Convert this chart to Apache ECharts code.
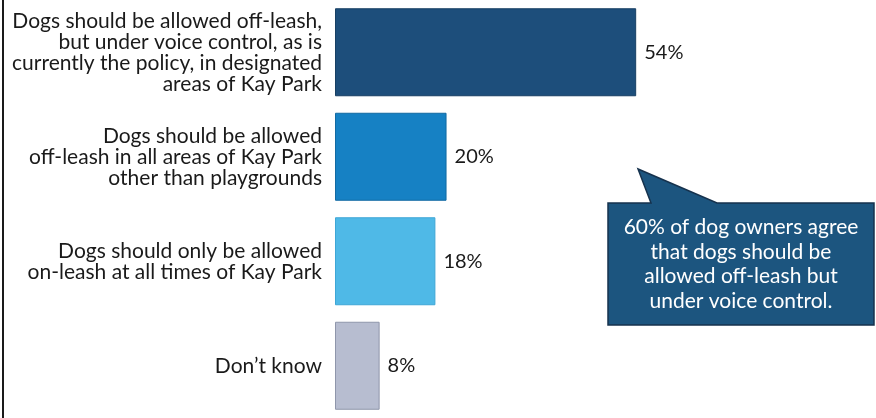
<!DOCTYPE html>
<html>
<head>
<meta charset="utf-8">
<style>
  html, body { margin: 0; padding: 0; background: #ffffff; }
  #chart { width: 876px; height: 418px; }
</style>
<script src="https://cdn.jsdelivr.net/npm/echarts@6/dist/echarts.min.js"></script>
</head>
<body>
<div id="chart"></div>
<script>
// Survey responses: dog leash policy preferences in Kay Park
const categories = [
  'Dogs should be allowed off-leash,\nbut under voice control, as is\ncurrently the policy, in designated\nareas of Kay Park',
  'Dogs should be allowed\noff-leash in all areas of Kay Park\nother than playgrounds',
  'Dogs should only be allowed\non-leash at all times of Kay Park',
  'Don\u2019t know'
];
const shares = [54, 20, 18, 8];
const calloutLines = [
  '60% of dog owners agree',
  'that dogs should be',
  'allowed off-leash but',
  'under voice control.'
];

// Per-bar fill and edge colours
const barFills = ['#1d4e7b', '#1681c4', '#4fb9e7', '#b7bdd0'];
const barEdges = ['#173f63', '#126aa3', '#3ea6d6', '#8f96ab'];

const FONT = 'Lato, "Open Sans", sans-serif';

const chart = echarts.init(document.getElementById('chart'), null, { renderer: 'canvas' });

chart.setOption({
  backgroundColor: '#ffffff',
  animation: false,
  grid: { left: 335, top: -2, right: 0, height: 424, containLabel: false },
  xAxis: { type: 'value', min: 0, max: 97, show: false },
  yAxis: {
    type: 'category',
    data: categories,
    inverse: true,
    axisLine: { show: false },
    axisTick: { show: false },
    splitLine: { show: false },
    axisLabel: {
      margin: 13,
      align: 'right',
      color: '#1a1a1a',
      fontFamily: FONT,
      fontSize: 21,
      lineHeight: 21
    }
  },
  series: [{
    type: 'bar',
    barWidth: 88,
    data: shares.map((v, i) => ({
      value: v,
      itemStyle: { color: barFills[i], borderColor: barEdges[i], borderWidth: 1 }
    })),
    label: {
      show: true,
      position: 'right',
      distance: 8,
      formatter: '{c}%',
      color: '#1a1a1a',
      fontFamily: FONT,
      fontSize: 20
    }
  }],
  graphic: [
    // frame line at the left edge
    {
      type: 'rect',
      shape: { x: 2, y: 0, width: 2, height: 418 },
      style: { fill: '#1a1a1a' },
      silent: true
    },
    // speech-bubble callout
    {
      type: 'polygon',
      shape: {
        points: [
          [608, 203], [651, 203], [638, 169], [717, 203],
          [874, 203], [874, 325], [608, 325]
        ]
      },
      style: { fill: '#1c557f', stroke: '#16324d', lineWidth: 1.5 },
      silent: true
    },
    {
      type: 'text',
      x: 741,
      y: 264,
      style: {
        text: calloutLines.join('\n'),
        fill: '#ffffff',
        font: '21px ' + FONT,
        lineHeight: 24.5,
        align: 'center',
        verticalAlign: 'middle'
      },
      silent: true
    }
  ]
});
</script>
</body>
</html>
